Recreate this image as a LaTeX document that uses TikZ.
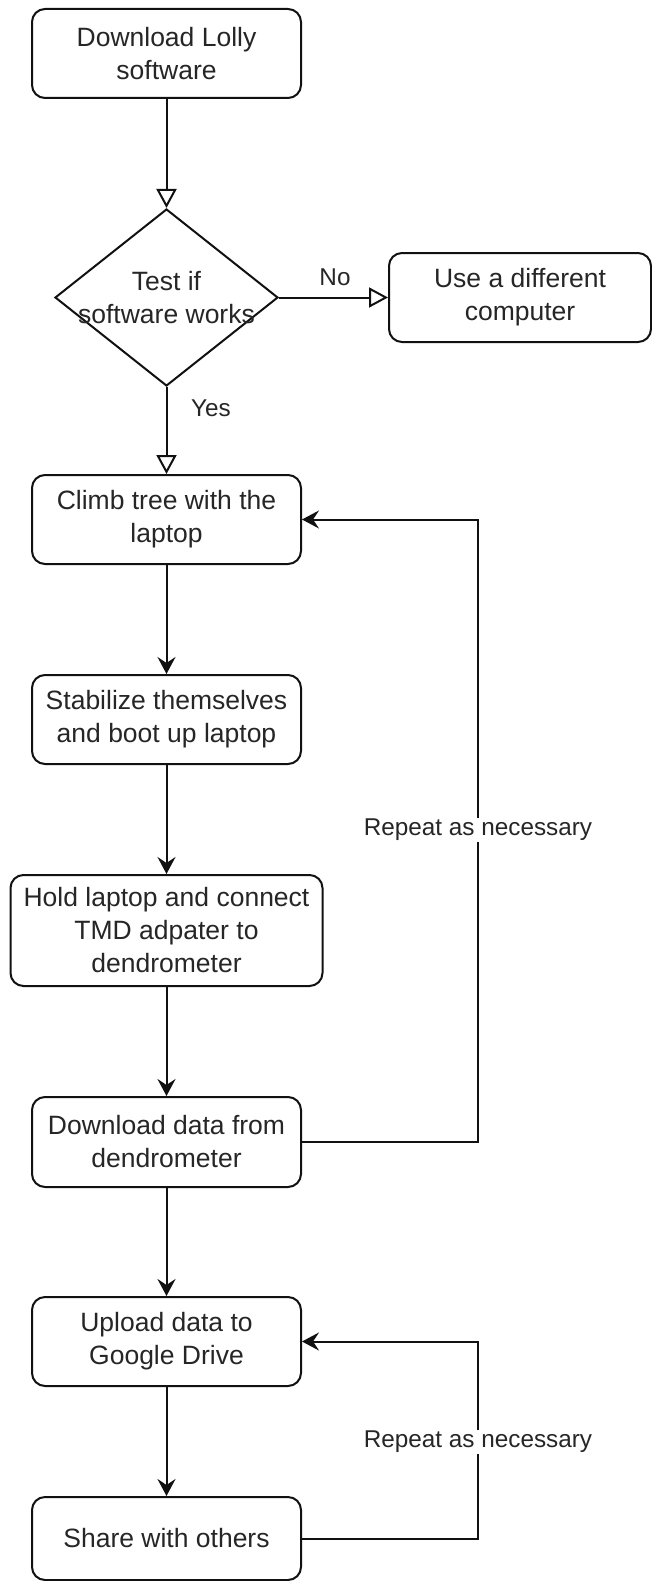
\documentclass[tikz,border=0pt]{standalone}
\usepackage{fontspec}
\setmainfont{Liberation Sans}
\usetikzlibrary{arrows.meta,shapes.geometric}
\definecolor{txt}{HTML}{262626}
\definecolor{ln}{HTML}{111111}
\tikzset{
  boxtext/.style={font=\fontsize{26.5}{33}\selectfont, text=txt, align=center},
  proc/.style={draw=ln, line width=2pt, rounded corners=13pt, fill=white, boxtext, inner sep=0pt},
  dec/.style={draw=ln, line width=2pt, diamond, fill=white, inner sep=0pt, minimum width=223pt, minimum height=177pt},
  lbl/.style={font=\fontsize{24.3}{30}\selectfont, text=txt, inner sep=1pt},
  openarr/.style={draw=ln, line width=2pt, -{Triangle[open, length=19pt, width=20pt]}},
  flow/.style={draw=ln, line width=2pt, -{Stealth[length=17pt, width=18pt, inset=6pt]}},
}
\begin{document}
\begin{tikzpicture}[x=1pt, y=-1pt]
\useasboundingbox[fill=white] (0,0) rectangle (652,1581);
\node[proc, minimum width=269pt, minimum height=89pt] (b1) at (166.5,53.5) {Download Lolly\\software};
\node[dec, label={[boxtext]center:Test if\\software works}] (test) at (166.5,297.5) {};
\node[proc, minimum width=262pt, minimum height=89pt] (diff) at (520,297.5) {Use a different\\computer};
\node[proc, minimum width=269pt, minimum height=89pt] (climb) at (166.5,519.5) {Climb tree with the\\laptop};
\node[proc, minimum width=269pt, minimum height=89pt] (stab) at (166.5,719.5) {Stabilize themselves\\and boot up laptop};
\node[proc, minimum width=312pt, minimum height=111pt] (hold) at (166.5,930.5) {Hold laptop and connect\\TMD adpater to\\dendrometer};
\node[proc, minimum width=269pt, minimum height=90pt] (dl) at (166.5,1142) {Download data from\\dendrometer};
\node[proc, minimum width=269pt, minimum height=89pt] (up) at (166.5,1341.5) {Upload data to\\Google Drive};
\node[proc, minimum width=269pt, minimum height=83pt] (share) at (166.5,1538.5) {Share with others};

\draw[openarr] (b1.south) -- (test.north);
\draw[openarr] (test.east) -- (diff.west);
\node[lbl] (no) at (335,277) {No};
\draw[openarr] (test.south) -- (climb.north);
\node[lbl] (yes) at (211,408) {Yes};

\draw[flow] (climb.south) -- (stab.north);
\draw[flow] (stab.south) -- (hold.north);
\draw[flow] (hold.south) -- (dl.north);
\draw[flow] (dl.south) -- (up.north);
\draw[flow] (up.south) -- (share.north);

\coordinate (loopa) at (478,1142);
\coordinate (loopb) at (478,1538.5);
\draw[flow] (dl.east) -- (loopa) |- (climb.east);
\draw[flow] (share.east) -- (loopb) |- (up.east);
\node[lbl, fill=white] (rep1) at (478,830) {Repeat as necessary};
\node[lbl, fill=white] (rep2) at (478,1442) {Repeat as necessary};
\end{tikzpicture}
\end{document}
